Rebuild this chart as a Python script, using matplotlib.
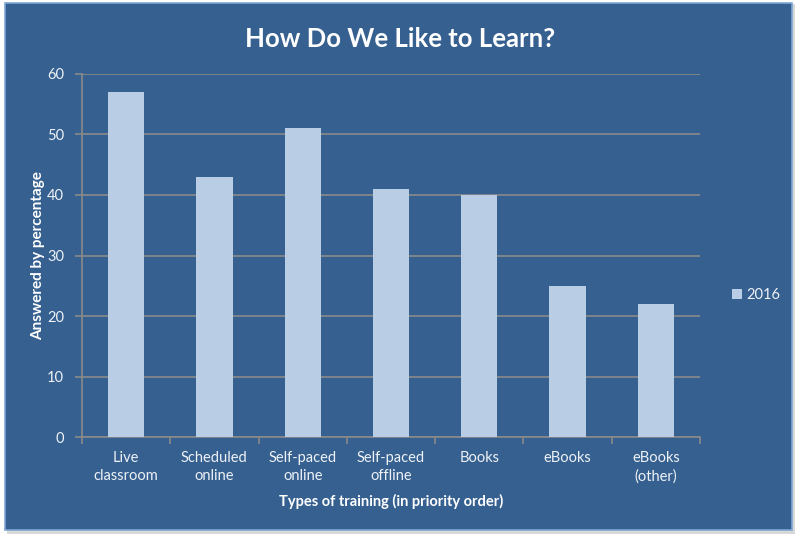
import matplotlib.pyplot as plt
from matplotlib.patches import Rectangle

# Donnees du graphique
categories = ["Live\nclassroom", "Scheduled\nonline", "Self-paced\nonline",
              "Self-paced\noffline", "Books", "eBooks", "eBooks\n(other)"]
valeurs_2016 = [57, 43, 51, 41, 40, 25, 22]
yticks = [0, 10, 20, 30, 40, 50, 60]

plt.rcParams['font.family'] = ['Lato', 'DejaVu Sans']

fond = '#36608F'
barre = '#B9CDE5'
grille = '#8A8A8A'
texte = '#EEF2F7'

fig = plt.figure(figsize=(8, 5.4), dpi=100, facecolor='white')

# Panneau bleu avec une petite ombre (derriere les axes)
fig.patches.append(Rectangle((0.009, 0.012), 0.985, 0.98, transform=fig.transFigure,
                             facecolor='#D8D8D8', edgecolor='none', zorder=-2))
fig.patches.append(Rectangle((0.006, 0.018), 0.984, 0.976, transform=fig.transFigure,
                             facecolor=fond, edgecolor='#7FA6D4', linewidth=1.2, zorder=-1))

ax = fig.add_axes([0.1025, 0.1907, 0.7725, 0.6723])
ax.set_facecolor('none')

x = list(range(len(categories)))
ax.bar(x, valeurs_2016, width=0.41, color=barre, label='2016', zorder=3)

ax.set_xlim(-0.5, len(categories) - 0.5)
ax.set_ylim(0, 60)
ax.set_yticks(yticks)
ax.yaxis.grid(True, color=grille, linewidth=1.2, zorder=0)

# Ticks x aux limites des categories
ax.set_xticks([i - 0.5 for i in range(len(categories) + 1)], minor=False)
ax.set_xticklabels([])
ax.set_xticks(x, minor=True)
ax.set_xticklabels(categories, minor=True, color=texte, fontsize=10.5, linespacing=1.35)
ax.tick_params(axis='x', which='major', length=5, color=grille, width=1.2)
ax.tick_params(axis='x', which='minor', length=0, pad=10)
ax.tick_params(axis='y', length=5, color=grille, width=1.2, labelcolor=texte,
               labelsize=10.5, pad=8)

for s in ['top', 'right']:
    ax.spines[s].set_visible(False)
for s in ['left', 'bottom']:
    ax.spines[s].set_color(grille)
    ax.spines[s].set_linewidth(1.2)

ax.set_ylabel("Answered by percentage", color='white', fontweight='bold', fontsize=11, labelpad=1)
ax.set_xlabel("Types of training (in priority order)", color='white', fontweight='bold',
              fontsize=10.5, labelpad=8)

fig.text(0.5, 0.928, "How Do We Like to Learn?", ha='center', va='center',
         color='white', fontweight='bold', fontsize=18.5)

leg = ax.legend(loc='center left', bbox_to_anchor=(1.03, 0.39), frameon=False,
                handlelength=0.7, handleheight=0.7, handletextpad=0.3, fontsize=10.5)
for t in leg.get_texts():
    t.set_color(texte)

fig.savefig('out.png', dpi=100, facecolor='white')
